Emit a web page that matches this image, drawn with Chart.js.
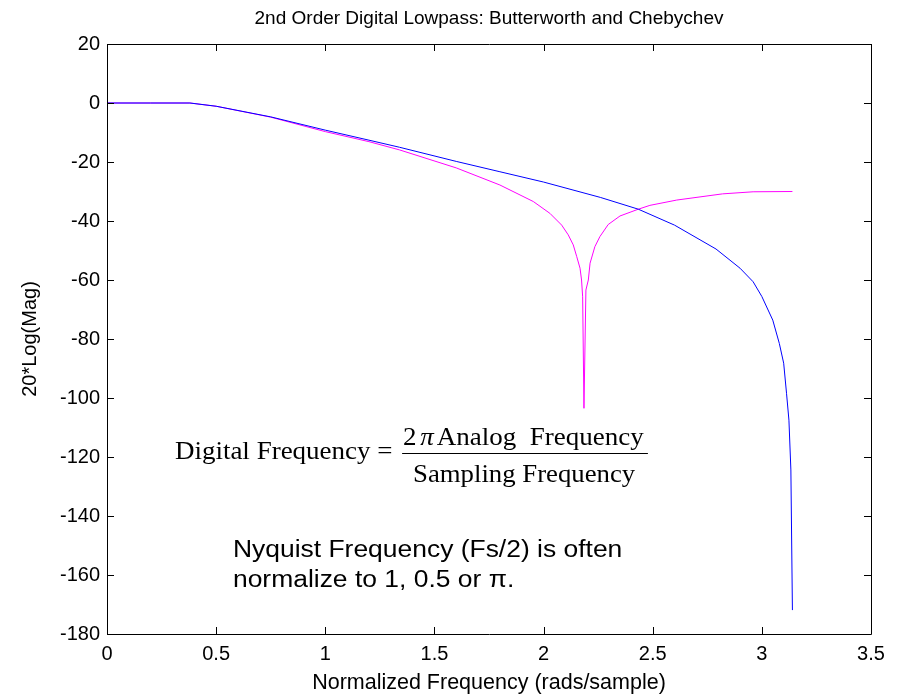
<!DOCTYPE html>
<html>
<head>
<meta charset="utf-8">
<script src="https://cdn.jsdelivr.net/npm/chart.js@4.4.1/dist/chart.umd.min.js"></script>
<style>
  html, body { margin: 0; padding: 0; background: #fff; }
</style>
</head>
<body>
<canvas id="filterChart" width="901" height="698"></canvas>
<script>
// magnitude responses (rads/sample, dB)
const butterFreq = [0, 0.2, 0.38, 0.5, 0.75, 1.0, 1.2, 1.34, 1.6, 1.8, 2.0, 2.26, 2.434, 2.6, 2.79, 2.9, 2.96, 3.0, 3.05, 3.08, 3.1, 3.113, 3.124, 3.133, 3.14];
const butterDb = [0, 0, 0, -1.1, -4.7, -9.2, -12.6, -15.0, -19.8, -23.3, -26.8, -32.0, -36.0, -41.4, -49.5, -56.0, -60.6, -65.6, -73.6, -81.5, -88.2, -98.4, -107.5, -124.4, -171.9];

const chebyFreq = [0, 0.38, 0.5, 0.75, 1.0, 1.2, 1.34, 1.6, 1.8, 1.953, 2.029, 2.083, 2.113, 2.136, 2.152, 2.167, 2.174, 2.179, 2.185, 2.194, 2.205, 2.213, 2.235, 2.258, 2.296, 2.35, 2.434, 2.487, 2.61, 2.82, 2.96, 3.14];
const chebyDb = [0, 0, -1.1, -4.8, -9.7, -13.1, -15.9, -22.0, -27.8, -33.4, -37.4, -41.4, -44.7, -48.1, -52.1, -56.0, -60.0, -65.7, -103.5, -63.4, -60.0, -54.3, -48.7, -45.3, -41.2, -38.3, -36.0, -34.7, -32.9, -30.8, -30.1, -30.0];

const xTicks = [0, 0.5, 1, 1.5, 2, 2.5, 3, 3.5];
const yTicks = [20, 0, -20, -40, -60, -80, -100, -120, -140, -160, -180];

const sans = "'Liberation Sans', Arial, sans-serif";
const serif = "'Liberation Serif', 'Times New Roman', serif";

const toPoints = (xs, ys) => xs.map((x, i) => ({ x: x, y: ys[i] }));

// matlab style: box round the axes, ticks pointing inward on all sides
const boxTicks = {
    id: "boxTicks",
    afterDraw(chart) {
        const { ctx, chartArea: a, scales } = chart;
        ctx.save();
        ctx.strokeStyle = "#000";
        ctx.lineWidth = 1;
        ctx.beginPath();
        ctx.rect(a.left + 0.5, a.top + 0.5, a.right - a.left, a.bottom - a.top);
        xTicks.forEach(v => {
            const px = Math.round(scales.x.getPixelForValue(v)) + 0.5;
            ctx.moveTo(px, a.bottom); ctx.lineTo(px, a.bottom - 7);
            ctx.moveTo(px, a.top); ctx.lineTo(px, a.top + 7);
        });
        yTicks.forEach(v => {
            const py = Math.round(scales.y.getPixelForValue(v)) + 0.5;
            ctx.moveTo(a.left, py); ctx.lineTo(a.left + 7, py);
            ctx.moveTo(a.right, py); ctx.lineTo(a.right - 7, py);
        });
        ctx.stroke();
        ctx.restore();
    }
};

// text a bit wider than the font, like the stretched figure
const wideText = (ctx, str, x, y, sx) => {
    ctx.save();
    ctx.translate(x, y);
    ctx.scale(sx, 1);
    ctx.fillText(str, 0, 0);
    const w = ctx.measureText(str).width * sx;
    ctx.restore();
    return w;
};

// the two text notes placed in data coordinates
const notes = {
    id: "notes",
    afterDraw(chart) {
        const { ctx, scales: { x, y } } = chart;
        ctx.save();
        ctx.fillStyle = "#000";
        ctx.textBaseline = "alphabetic";
        ctx.textAlign = "left";
        const sx = 1.08;

        ctx.font = "25px " + serif;
        wideText(ctx, "Digital Frequency =", x.getPixelForValue(0.311), y.getPixelForValue(-120.7), sx);

        let nx = x.getPixelForValue(1.356);
        const ny = y.getPixelForValue(-115.9);
        nx += wideText(ctx, "2 ", nx, ny, sx) - 3;
        ctx.font = "italic 25px " + serif;
        nx += wideText(ctx, "\u03c0", nx, ny, sx) + 3;
        ctx.font = "25px " + serif;
        wideText(ctx, "Analog  Frequency", nx, ny, sx);

        wideText(ctx, "Sampling Frequency", x.getPixelForValue(1.402), y.getPixelForValue(-128.4), 1.07);

        ctx.strokeStyle = "#000";
        ctx.lineWidth = 1;
        ctx.beginPath();
        const ly = Math.round(y.getPixelForValue(-118.7)) + 0.5;
        ctx.moveTo(x.getPixelForValue(1.352), ly);
        ctx.lineTo(x.getPixelForValue(2.478), ly);
        ctx.stroke();

        ctx.font = "23.5px " + sans;
        wideText(ctx, "Nyquist Frequency (Fs/2) is often", x.getPixelForValue(0.577), y.getPixelForValue(-153.9), 1.125);
        wideText(ctx, "normalize to 1, 0.5 or \u03c0.", x.getPixelForValue(0.577), y.getPixelForValue(-164.1), 1.125);
        ctx.restore();
    }
};

const ctx = document.getElementById("filterChart");

new Chart(ctx, {
    type: "line",
    data: {
        datasets: [
            {
                label: "Butterworth",
                data: toPoints(butterFreq, butterDb),
                borderColor: "#0000ff",
                borderWidth: 1,
                pointRadius: 0,
                tension: 0
            },
            {
                label: "Chebychev",
                data: toPoints(chebyFreq, chebyDb),
                borderColor: "#ff00ff",
                borderWidth: 1,
                pointRadius: 0,
                tension: 0
            }
        ]
    },
    options: {
        responsive: false,
        animation: false,
        layout: { padding: { top: 0, right: 30, bottom: 0, left: 0 } },
        plugins: {
            legend: { display: false },
            tooltip: { enabled: false }
        },
        scales: {
            // top axis only carries the title, so it centres over the plot box
            top: {
                type: "linear",
                position: "top",
                min: 0,
                max: 3.5,
                afterFit: s => { s.height = 44; },
                grid: { display: false, drawTicks: false },
                border: { display: false },
                ticks: { display: false },
                title: {
                    display: true,
                    text: "2nd Order Digital Lowpass: Butterworth and Chebychev",
                    color: "#000",
                    font: { family: sans, size: 19 },
                    padding: { top: 7, bottom: 0 }
                }
            },
            x: {
                type: "linear",
                position: "bottom",
                min: 0,
                max: 3.5,
                afterFit: s => { s.height = 64; },
                afterBuildTicks: s => { s.ticks = xTicks.map(v => ({ value: v })); },
                grid: { display: false, drawTicks: false },
                border: { display: false },
                ticks: {
                    color: "#000",
                    padding: 8,
                    maxRotation: 0,
                    font: { family: sans, size: 20 },
                    callback: v => String(v)
                },
                title: {
                    display: true,
                    text: "Normalized Frequency (rads/sample)",
                    color: "#000",
                    font: { family: sans, size: 21.5 },
                    padding: { top: 0, bottom: 2 }
                }
            },
            y: {
                type: "linear",
                min: -180,
                max: 20,
                afterFit: s => { s.width = 107; },
                afterBuildTicks: s => { s.ticks = yTicks.map(v => ({ value: v })); },
                grid: { display: false, drawTicks: false },
                border: { display: false },
                ticks: {
                    color: "#000",
                    padding: 7,
                    font: { family: sans, size: 20 },
                    callback: v => String(v)
                },
                title: {
                    display: true,
                    text: "20*Log(Mag)",
                    color: "#000",
                    font: { family: sans, size: 20 },
                    padding: { top: 18, bottom: 0 }
                }
            }
        }
    },
    plugins: [boxTicks, notes]
});
</script>
</body>
</html>
